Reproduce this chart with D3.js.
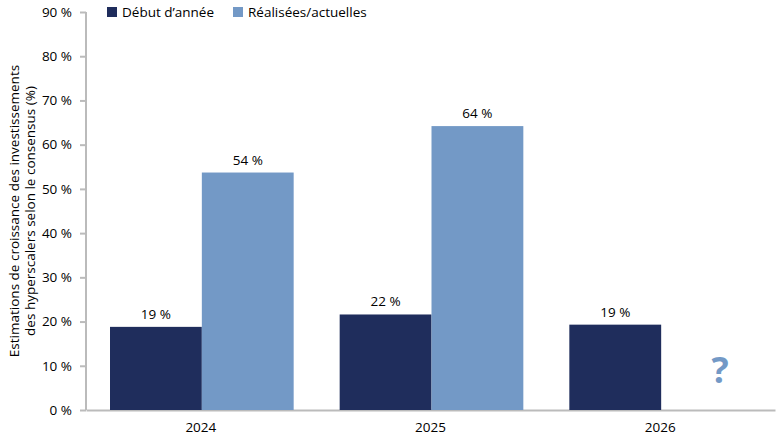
<!DOCTYPE html>
<html>
<head>
<meta charset="utf-8">
<script src="https://cdn.jsdelivr.net/npm/d3@7"></script>
<style>
  body { margin: 0; background: #fff; }
  text { font-family: "Open Sans", sans-serif; fill: #000; }
</style>
</head>
<body>
<svg width="781" height="440"></svg>
<script>
var years = ["2024", "2025", "2026"];
var seriesNames = ["Début d’année", "Réalisées/actuelles"];
var debut = [18.8, 21.6, 19.3];
var realisees = [53.7, 64.2, null];
var debutLabels = ["19 %", "22 %", "19 %"];
var realiseesLabels = ["54 %", "64 %", "?"];
var yTicks = [0, 10, 20, 30, 40, 50, 60, 70, 80, 90];
var colors = ["#1f2d5c", "#7399c6"];

var svg = d3.select("svg"),
    margin = {top: 12, right: 6, bottom: 30, left: 86},
    width = +svg.attr("width") - margin.left - margin.right,
    height = +svg.attr("height") - margin.top - margin.bottom,
    g = svg.append("g").attr("transform", "translate(" + margin.left + "," + margin.top + ")");

var x0 = d3.scaleBand().domain(years).range([0, width]).paddingInner(0).paddingOuter(0);
var x1 = d3.scaleBand().domain([0, 1]).range([24, x0.bandwidth() - 22]);
var y = d3.scaleLinear().domain([0, 90]).range([height, 0]);

// y axis
var yAxis = g.append("g")
    .call(d3.axisLeft(y).tickValues(yTicks).tickSize(6).tickPadding(8)
        .tickFormat(function(d) { return d + "\u00A0%"; }));
yAxis.selectAll("line, path").attr("stroke", "#bbb").attr("stroke-width", 2);
yAxis.select(".domain").attr("d", "M0," + height + "V0");
yAxis.selectAll("text").attr("font-size", 13.5).attr("font-family", "Open Sans, sans-serif").attr("fill", "#000");

// x axis
var xAxis = g.append("g")
    .attr("transform", "translate(0," + height + ")")
    .call(d3.axisBottom(x0).tickSize(0).tickPadding(12));
xAxis.select(".domain").attr("stroke", "#bbb").attr("stroke-width", 2);
xAxis.selectAll("text").attr("font-size", 13.5).attr("font-family", "Open Sans, sans-serif").attr("fill", "#000");

var rows = years.map(function(yr, i) {
    return [
        {year: yr, s: 0, v: debut[i], label: debutLabels[i]},
        {year: yr, s: 1, v: realisees[i], label: realiseesLabels[i]}
    ];
});

var groups = g.selectAll(".grp")
    .data(rows)
    .enter().append("g")
    .attr("transform", function(d) { return "translate(" + x0(d[0].year) + ",0)"; });

groups.selectAll("rect")
    .data(function(d) { return d.filter(function(e) { return e.v != null; }); })
    .enter().append("rect")
    .attr("x", function(d) { return x1(d.s); })
    .attr("width", x1.bandwidth())
    .attr("y", function(d) { return y(d.v); })
    .attr("height", function(d) { return height - y(d.v); })
    .attr("fill", function(d) { return colors[d.s]; });

// value labels; the missing 2026 value gets a big "?" instead
groups.selectAll(".lbl")
    .data(function(d) { return d; })
    .enter().append("text")
    .attr("x", function(d) { return x1(d.s) + x1.bandwidth() / 2 + (d.v != null ? 0 : 13); })
    .attr("y", function(d) { return d.v != null ? y(d.v) - 8 : y(6); })
    .attr("text-anchor", "middle")
    .attr("font-size", function(d) { return d.v != null ? 13.5 : 36; })
    .attr("font-weight", function(d) { return d.v != null ? null : "bold"; })
    .style("fill", function(d) { return d.v != null ? "#000" : colors[1]; })
    .text(function(d) { return d.label; });

// y axis title
var title = svg.append("text")
    .attr("transform", "translate(14," + (margin.top + height / 2) + ") rotate(-90)")
    .attr("text-anchor", "middle")
    .attr("font-size", 13.5);
title.append("tspan").attr("x", 0).attr("dy", "0.35em").text("Estimations de croissance des investissements");
title.append("tspan").attr("x", 0).attr("dy", "1.2em").text("des hyperscalers selon le consensus (%)");

// legend
var legend = svg.append("g").attr("transform", "translate(107,7)");
var li = legend.selectAll("g")
    .data(seriesNames)
    .enter().append("g")
    .attr("transform", function(d, i) { return "translate(" + (i * 126) + ",0)"; });
li.append("rect").attr("width", 10).attr("height", 10).attr("fill", function(d, i) { return colors[i]; });
li.append("text").attr("x", 15).attr("y", 5).attr("dy", "0.35em").attr("font-size", 13.5).text(function(d) { return d; });
</script>
</body>
</html>
